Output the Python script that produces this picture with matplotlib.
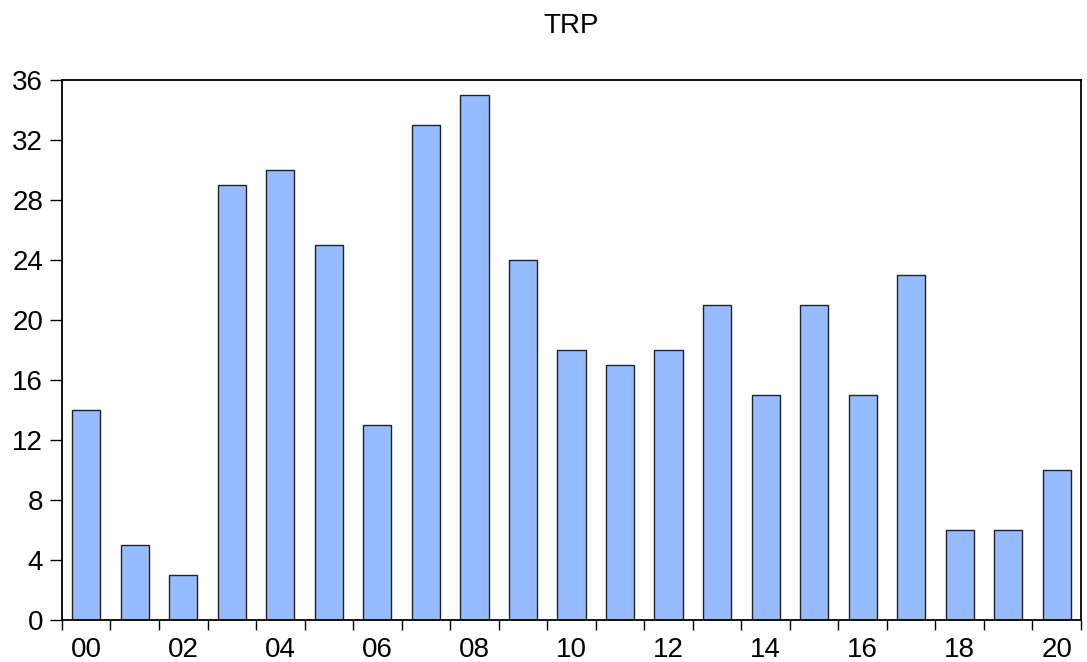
import numpy as np
import matplotlib.pyplot as plt

plt.rcParams['font.family'] = ['Liberation Sans', 'DejaVu Sans']

years = ["00", "01", "02", "03", "04", "05", "06", "07", "08", "09", "10",
         "11", "12", "13", "14", "15", "16", "17", "18", "19", "20"]
trp = [14, 5, 3, 29, 30, 25, 13, 33, 35, 24, 18, 17, 18, 21, 15, 21, 15, 23, 6, 6, 10]
yticks = [0, 4, 8, 12, 16, 20, 24, 28, 32, 36]

fig = plt.figure(figsize=(10.87, 6.62), dpi=100)
ax = fig.add_axes([0.057, 0.0634, 0.9375, 0.8158])

x = np.arange(len(years))
ax.bar(x, trp, width=0.58, color='#96BBFF', edgecolor='#222222', linewidth=1.0)

ax.set_xlim(-0.5, len(years) - 0.5)
ax.set_ylim(0, 36)
ax.set_yticks(yticks)

# tick marks between bars, labels under even years
ax.set_xticks(np.arange(len(years) + 1) - 0.5)
ax.set_xticklabels([])
ax.set_xticks(x[::2], minor=True)
ax.set_xticklabels(years[::2], minor=True)
ax.tick_params(axis='x', which='major', direction='out', length=7.5, width=1)
ax.tick_params(axis='x', which='minor', length=0, pad=12, labelsize=20)
ax.tick_params(axis='y', direction='out', length=8.5, width=1, pad=5, labelsize=20)

for s in ax.spines.values():
    s.set_linewidth(1.3)

ax.set_title("TRP", fontsize=20, pad=34)

fig.savefig("out.png", dpi=100)
